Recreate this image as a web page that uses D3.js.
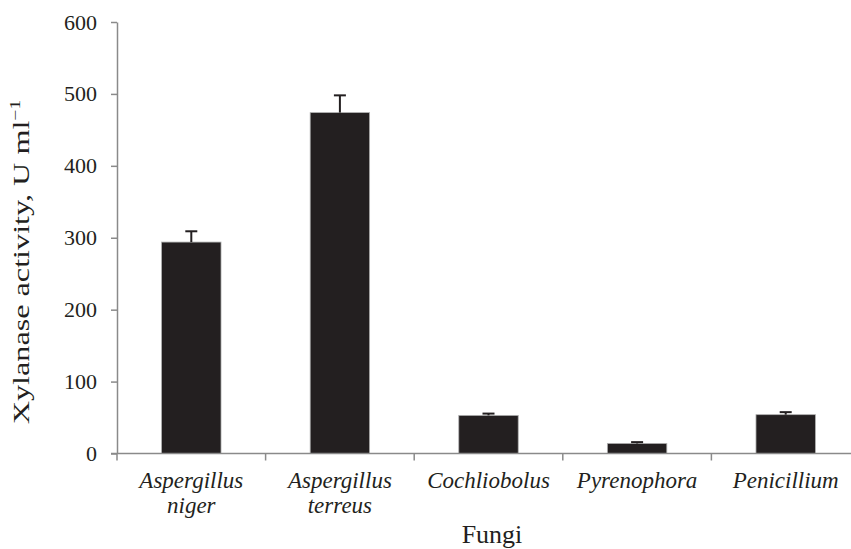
<!DOCTYPE html>
<html><head><meta charset="utf-8">
<script src="https://cdn.jsdelivr.net/npm/d3@7"></script>
<style>body{margin:0;background:#fff}svg{display:block}</style>
</head><body>
<script>
const categories = [["Aspergillus","niger"],["Aspergillus","terreus"],["Cochliobolus"],["Pyrenophora"],["Penicillium"]];
const values = [294, 474, 53, 14, 54];
const errors = [15, 24, 2.5, 1.8, 3.5];
const yTicks = [0,100,200,300,400,500,600];

const W=851,H=549;
const svg=d3.select("body").append("svg").attr("width",W).attr("height",H);
const x0=117, x1=860, yTop=22, yBot=453.5;
const names=categories.map(c=>c.join(" "));
const x=d3.scaleBand().domain(names).range([x0,x1]).padding(0);
const y=d3.scaleLinear().domain([0,600]).range([yBot,yTop]);
const font="'Liberation Serif','Times New Roman',serif";
const ink="#231f20", axisC="#8a8a8a";
const bw=x.bandwidth()*0.4;

// bars
svg.selectAll("rect.bar").data(values).join("rect")
 .attr("x",(d,i)=>x(names[i])+x.bandwidth()/2-bw/2)
 .attr("y",d=>y(d)).attr("width",bw).attr("height",d=>yBot-y(d))
 .attr("fill",ink).attr("stroke","#b0b0b0").attr("stroke-width",0.8);

// error bars
const eg=svg.append("g").attr("stroke",ink).attr("stroke-width",2);
values.forEach((v,i)=>{
  const cx=x(names[i])+x.bandwidth()/2;
  eg.append("line").attr("x1",cx).attr("x2",cx).attr("y1",y(v)).attr("y2",y(v+errors[i]));
  eg.append("line").attr("x1",cx-6).attr("x2",cx+6).attr("y1",y(v+errors[i])).attr("y2",y(v+errors[i]));
});

// y axis
const ya=svg.append("g").attr("transform",`translate(${x0},0)`)
 .call(d3.axisLeft(y).tickValues(yTicks).tickSize(6).tickPadding(14).tickSizeOuter(0));
ya.select(".domain").attr("stroke",axisC).attr("stroke-width",1.5);
ya.selectAll(".tick line").attr("stroke",axisC).attr("stroke-width",1.5);
ya.selectAll(".tick text").attr("font-family",font).attr("font-size",22).attr("fill",ink);

// x axis
const xa=svg.append("g").attr("transform",`translate(0,${yBot})`);
xa.append("line").attr("x1",x0-6).attr("x2",W).attr("y1",0).attr("y2",0).attr("stroke",axisC).attr("stroke-width",1.5);
xa.selectAll("line.tk").data(names).join("line").attr("class","tk")
 .attr("x1",d=>x(d)).attr("x2",d=>x(d)).attr("y1",0).attr("y2",7).attr("stroke",axisC).attr("stroke-width",1.5);
categories.forEach((c,i)=>{
  const cx=x(names[i])+x.bandwidth()/2;
  const t=xa.append("text").attr("x",cx).attr("y",34.5).attr("text-anchor","middle")
   .attr("font-family",font).attr("font-style","italic").attr("font-size",23).attr("fill",ink);
  c.forEach((s,j)=>t.append("tspan").attr("x",cx).attr("dy",j?25:0).text(s));
});

// axis titles
svg.append("text").attr("x",492).attr("y",543).attr("text-anchor","middle")
 .attr("font-family",font).attr("font-size",26).attr("fill",ink).text("Fungi");
const yt=svg.append("text").attr("transform",`translate(29,262) rotate(-90) scale(1.4,1)`).attr("text-anchor","middle")
 .attr("font-family",font).attr("font-size",23).attr("fill",ink);
yt.append("tspan").text("Xylanase activity, U ml");
yt.append("tspan").attr("dy",-9).attr("font-size",14).text("\u22121");
</script>
</body></html>
